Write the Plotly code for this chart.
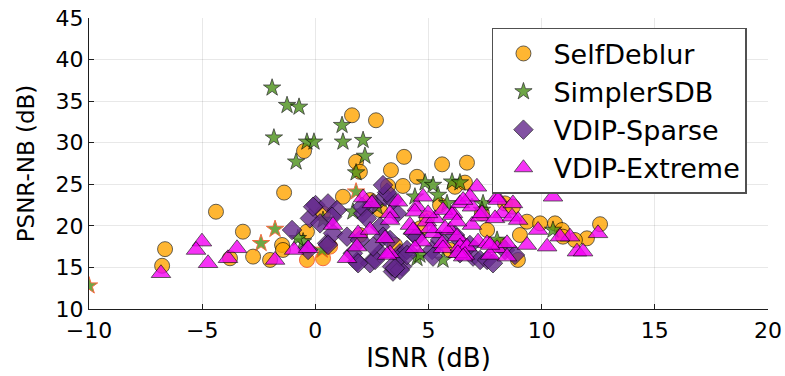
import plotly.graph_objects as go

# ---- data ----
selfdeblur_x = [-6.64, -6.77, -4.39, -3.20, -1.38, -3.77, -2.75, -2.00, -1.47, -1.43, -0.37, 1.62, 2.68,
                -0.50, 1.80, 1.97, 3.34, 3.92, 4.49, 5.60, 6.70, 3.21, 3.87, 6.17, 6.61, 10.28, 8.38, 7.36,
                7.59, 9.35, 9.93, 10.59, 10.90, 12.00, 12.58, 8.95, 11.47, 1.22, 0.34, 4.93, 8.73, 10.94,
                2.86, 5.51, 4.63, 3.52, 5.95, 8.16, 9.04, 1.97, 2.42]
selfdeblur_y = [17.2, 15.2, 21.7, 19.3, 24.0, 16.1, 16.3, 15.9, 17.7, 17.1, 19.3, 33.3, 32.7,
                29.0, 27.7, 26.5, 26.7, 28.3, 25.9, 27.4, 27.6, 24.8, 24.8, 24.7, 25.2, 24.8, 22.7, 21.5,
                19.5, 20.5, 20.3, 20.3, 19.5, 18.5, 20.2, 15.9, 18.3, 23.5, 21.5, 20.9, 22.3, 18.7,
                21.9, 22.5, 19.7, 17.7, 17.1, 17.7, 18.9, 18.9, 23.1]

simplersdb_x = [-1.91, -1.25, -0.72, -1.83, -0.37, -0.06, -0.85, 1.18, 1.22, 2.11, 2.19, 1.80, 4.85,
                5.20, 6.04, 6.39, 5.42, 4.40, 5.82, 7.41, 7.36, 4.49, 5.64, -0.54, 1.66, 2.73, 10.50,
                4.62, 8.03, 0.34, -0.77, 3.74]
simplersdb_y = [36.6, 34.5, 34.3, 30.6, 30.1, 30.1, 27.7, 32.1, 30.1, 30.3, 28.4, 26.4, 25.2,
                24.9, 25.3, 25.2, 23.7, 23.5, 22.7, 22.7, 21.9, 16.1, 15.9, 18.1, 21.7, 22.3, 19.5,
                16.5, 18.3, 20.7, 18.5, 16.5]

# markers drawn with a red-orange outline (no legend entry)
red_star_x = [-1.78, -2.40, 1.80, 0.30, -10.0]
red_star_y = [19.6, 17.9, 24.1, 17.1, 12.8]
red_circle_x = [-0.37, 0.34, 0.65]
red_circle_y = [15.9, 16.1, 17.5]

sparse_x = [-1.03, 0.01, -0.24, 0.56, 0.96, 0.52, 0.78, 1.40, 1.84, 2.42, 3.08, 2.55, 3.43, 3.83, 2.86,
            2.11, 3.61, 3.74, 4.32, -0.10, 0.21, 0.74, -0.32, 0.56, 2.06, 2.28, 3.43, 1.97, 1.66, 1.89,
            2.64, 3.39, 3.74, 3.74, 4.05, 2.86, 2.99, 2.55, 4.49, 5.16, 5.20, 6.39, 6.97, 7.28, 7.59,
            7.85, 3.17, 3.30, 3.52, 4.05, 5.51, 6.17, 8.38, 8.82, 6.83, 2.99]
sparse_y = [19.5, 22.5, 20.9, 22.7, 21.9, 17.9, 19.1, 18.7, 15.7, 15.5, 23.5, 22.7, 14.5, 15.1, 16.7,
            21.5, 21.5, 16.7, 19.1, 22.3, 20.3, 21.1, 17.1, 17.7, 22.3, 20.9, 23.1, 18.3, 16.7, 15.5,
            15.9, 15.1, 14.7, 16.3, 17.1, 19.9, 18.7, 17.5, 18.7, 17.1, 16.3, 16.7, 16.3, 15.9, 15.9,
            15.5, 24.0, 18.3, 14.9, 16.5, 18.3, 18.9, 17.1, 16.5, 17.7, 24.9]

extreme_x = [-6.82, -5.01, -5.27, -4.74, -3.86, -3.46, -1.78, -0.94, -0.32, 0.78, 1.40, 2.11, 2.50,
             1.89, 2.42, 3.08, 3.30, 3.65, 3.30, 4.18, 4.49, 4.76, 4.93, 5.20, 5.60, 5.95, 6.08, 6.39,
             6.92, 6.53, 7.14, 1.84, 3.30, 4.40, 4.32, 4.71, 5.07, 5.29, 5.64, 6.04, 5.73, 6.26, 5.64,
             6.39, 6.70, 6.83, 6.92, 7.19, 7.59, 7.28, 8.03, 8.03, 7.72, 6.61, 6.30, 4.98, 6.26, 6.53,
             7.36, 8.07, 8.25, 8.73, 7.94, 8.69, 8.96, 9.84, 10.50, 11.25, 11.56, 11.83, 12.49, 10.81,
             10.24, 9.35, 8.47, 7.72, 4.40, 3.17, 8.47, 6.53]
extreme_y = [14.3, 18.1, 17.1, 15.5, 16.1, 17.3, 15.9, 17.1, 17.3, 20.1, 16.1, 23.4, 22.7,
             19.1, 19.5, 18.5, 16.7, 22.9, 21.5, 20.1, 22.3, 23.5, 20.5, 19.1, 17.9, 19.5, 21.5, 22.7,
             22.3, 17.9, 24.7, 17.5, 20.7, 21.7, 19.5, 18.1, 19.7, 20.9, 21.9, 21.3, 19.7, 18.7, 17.3,
             17.5, 17.5, 23.5, 20.1, 18.1, 17.9, 21.1, 23.4, 17.3, 16.5, 16.5, 16.7, 21.5, 20.5, 23.1,
             21.5, 23.1, 21.5, 22.7, 20.9, 21.1, 20.7, 19.5, 23.5, 18.7, 16.9, 16.9, 19.1, 18.7,
             17.5, 17.7, 17.9, 17.7, 17.3, 16.5, 16.3, 16.3]

x_ticks = [-10, -5, 0, 5, 10, 15, 20]
y_ticks = [10, 15, 20, 25, 30, 35, 40, 45]

FONT = "DejaVu Sans"
edge = dict(color="rgba(0,0,0,0.75)", width=1)
ORANGE = "rgb(255,165,0)"
GREEN = "rgb(75,145,25)"
PURPLE = "rgb(100,40,140)"
MAGENTA = "rgb(245,0,245)"

fig = go.Figure()
fig.add_trace(go.Scatter(x=selfdeblur_x, y=selfdeblur_y, mode="markers", name="SelfDeblur",
                         marker=dict(symbol="circle", size=15, color=ORANGE, opacity=0.8, line=edge)))
fig.add_trace(go.Scatter(x=simplersdb_x, y=simplersdb_y, mode="markers", name="SimplerSDB",
                         marker=dict(symbol="star", size=13, color=GREEN, opacity=0.8, line=edge)))
fig.add_trace(go.Scatter(x=red_circle_x, y=red_circle_y, mode="markers", showlegend=False,
                         marker=dict(symbol="circle", size=15, color=ORANGE, opacity=0.8,
                                     line=dict(color="rgb(245,70,20)", width=1))))
fig.add_trace(go.Scatter(x=red_star_x, y=red_star_y, mode="markers", showlegend=False,
                         marker=dict(symbol="star", size=13, color=GREEN, opacity=0.8,
                                     line=dict(color="rgb(245,70,20)", width=1))))
fig.add_trace(go.Scatter(x=sparse_x, y=sparse_y, mode="markers", name="VDIP-Sparse",
                         marker=dict(symbol="diamond", size=15, color=PURPLE, opacity=0.8, line=edge)))
fig.add_trace(go.Scatter(x=extreme_x, y=extreme_y, mode="markers", name="VDIP-Extreme",
                         marker=dict(symbol="triangle-up", size=17, color=MAGENTA, opacity=0.8, line=edge)))

axis_common = dict(showgrid=True, gridcolor="rgba(0,0,0,0.09)", gridwidth=1, zeroline=False,
                   showline=True, linecolor="rgb(30,30,30)", linewidth=1, mirror=False,
                   ticks="inside", ticklen=5, tickcolor="rgb(30,30,30)", automargin=False,
                   tickfont=dict(family=FONT, size=22, color="black"))

fig.update_xaxes(range=[-10, 20], tickvals=x_ticks, **axis_common, ticklabelstandoff=2,
                 title=dict(text="ISNR (dB)", font=dict(family=FONT, size=26, color="black"), standoff=4))
fig.update_yaxes(range=[10, 45], tickvals=y_ticks, **axis_common,
                 title=dict(text="PSNR-NB (dB)", font=dict(family=FONT, size=23, color="black"), standoff=14))

fig.update_layout(
    width=785, height=376,
    margin=dict(l=89, r=17, t=18, b=67),
    paper_bgcolor="white", plot_bgcolor="white",
    font=dict(family=FONT, color="black"),
    legend=dict(x=0.969, y=0.966, xanchor="right", yanchor="top",
                bgcolor="white", bordercolor="rgb(80,80,80)", borderwidth=1.5,
                font=dict(family=FONT, size=27, color="black"), itemsizing="trace",
                itemwidth=50, tracegroupgap=0),
)

fig.write_html("out.html")
